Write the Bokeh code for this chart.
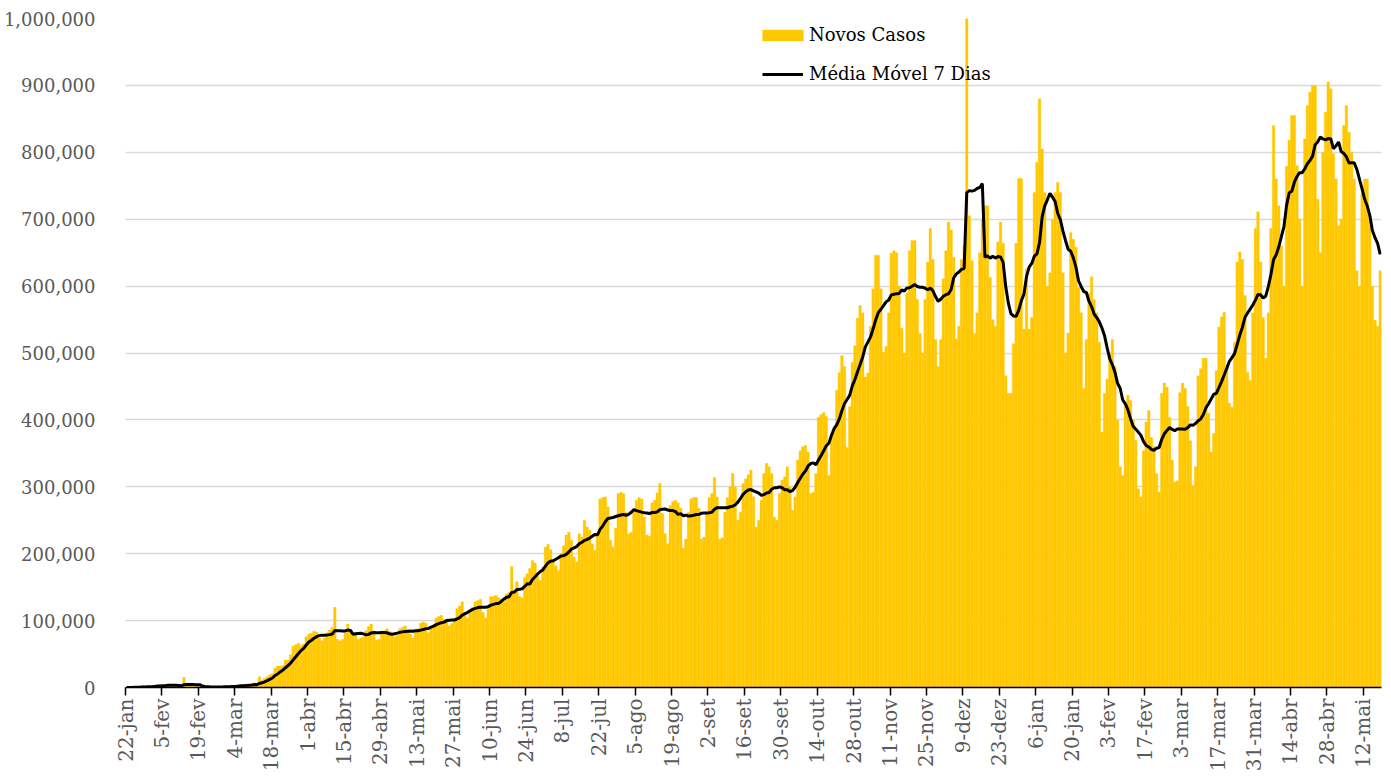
import numpy as np
import pandas as pd
from math import pi
from bokeh.plotting import figure
from bokeh.models import (ColumnDataSource, Range1d, FixedTicker, NumeralTickFormatter,
                          Legend, LegendItem)
from bokeh.embed import file_html
from bokeh.resources import INLINE

# Novos casos diários (milhares), 22-jan-2020 a 18-mai-2021
jan_2020 = [0.0, 0.1, 0.3, 0.5, 0.7, 0.8, 2.7, 0.6, 2.1, 1.7]
fev_2020 = [2.1, 2.6, 3.1, 4.0, 3.7, 3.2, 3.6, 2.7, 3.1, 2.6, 2.1, 0.4, 15.1, 6.5, 2.1,
            2.1, 1.9, 1.8, 0.4, 0.6, 1.0, 1.0, 0.6, 0.8, 0.9, 0.9, 1.1, 1.4, 1.8]
mar_2020 = [1.9, 1.9, 2.5, 2.3, 2.8, 3.9, 4.0, 3.9, 3.9, 4.5, 7.1, 2.6, 16.0, 11.0, 14.0,
            16.0, 19.0, 21.0, 29.0, 32.0, 32.0, 33.0, 41.0, 41.0, 49.0, 62.0, 64.0, 66.0,
            63.0, 65.0, 76.0]
abr_2020 = [80, 81, 84, 83, 74, 70, 74, 82, 86, 90, 120, 72, 70, 72, 82, 95, 86, 80, 78, 72,
            74, 76, 85, 91, 95, 82, 71, 72, 80, 85]
mai_2020 = [88, 84, 78, 76, 78, 88, 90, 92, 86, 80, 74, 84, 88, 96, 98, 96, 82, 88, 94, 104,
            106, 108, 102, 98, 92, 96, 104, 118, 122, 128, 112]
jun_2020 = [104, 114, 120, 128, 130, 132, 112, 104, 120, 136, 136, 138, 134, 132, 128, 140,
            142, 181, 142, 158, 136, 134, 164, 170, 178, 190, 186, 166, 160, 180]
jul_2020 = [210, 214, 206, 190, 182, 175, 200, 212, 228, 232, 220, 195, 188, 230, 225, 250,
            240, 235, 215, 205, 228, 282, 284, 285, 270, 220, 210, 238, 290, 292, 290]
ago_2020 = [262, 230, 232, 265, 280, 284, 282, 255, 228, 226, 276, 280, 291, 305, 260, 230,
            215, 272, 278, 280, 276, 268, 208, 222, 262, 282, 284, 284, 268, 222, 225]
set_2020 = [262, 284, 290, 314, 285, 222, 224, 262, 284, 300, 320, 300, 250, 262, 305, 312,
            318, 325, 285, 240, 250, 280, 320, 335, 330, 320, 255, 250, 290, 310]
out_2020 = [315, 330, 300, 265, 285, 340, 354, 360, 362, 352, 290, 292, 320, 404, 408, 411,
            405, 317, 374, 389, 444, 471, 496, 480, 359, 420, 486, 511, 552, 571, 560]
nov_2020 = [464, 470, 540, 596, 646, 646, 596, 501, 510, 560, 649, 653, 650, 600, 537, 500,
            590, 653, 668, 668, 580, 529, 500, 580, 636, 686, 640, 520, 480, 520]
dez_2020 = [611, 653, 696, 684, 643, 521, 540, 640, 660, 1490, 705, 638, 529, 560, 650, 700,
            720, 720, 613, 550, 540, 666, 696, 664, 466, 440, 440, 514, 664, 761, 761]
jan_2021 = [536, 626, 536, 553, 740, 785, 880, 805, 740, 600, 620, 700, 740, 755, 740, 620,
            500, 530, 680, 670, 658, 598, 560, 447, 520, 589, 614, 580, 560, 516, 382]
fev_2021 = [440, 461, 500, 520, 480, 400, 330, 317, 420, 437, 429, 400, 370, 297, 285, 354,
            397, 414, 374, 360, 320, 292, 440, 455, 449, 404, 340, 307]
mar_2021 = [309, 441, 455, 447, 420, 369, 302, 330, 466, 477, 492, 492, 410, 352, 380, 474,
            539, 554, 561, 480, 425, 419, 516, 636, 651, 640, 586, 471, 459, 560, 686]
abr_2021 = [711, 636, 553, 492, 560, 686, 840, 760, 720, 660, 600, 779, 818, 855, 855, 780,
            700, 600, 820, 870, 890, 900, 900, 730, 650, 800, 860, 905, 895, 798]
mai_2021 = [760, 690, 700, 840, 870, 830, 800, 760, 623, 600, 738, 760, 760, 700, 600, 549,
            540, 623]

tick_labels = ["22-jan", "5-fev", "19-fev", "4-mar", "18-mar", "1-abr", "15-abr", "29-abr",
               "13-mai", "27-mai", "10-jun", "24-jun", "8-jul", "22-jul", "5-ago", "19-ago",
               "2-set", "16-set", "30-set", "14-out", "28-out", "11-nov", "25-nov", "9-dez",
               "23-dez", "6-jan", "20-jan", "3-fev", "17-fev", "3-mar", "17-mar", "31-mar",
               "14-abr", "28-abr", "12-mai"]

months = [jan_2020, fev_2020, mar_2020, abr_2020, mai_2020, jun_2020, jul_2020, ago_2020,
          set_2020, out_2020, nov_2020, dez_2020, jan_2021, fev_2021, mar_2021, abr_2021,
          mai_2021]
novos_casos = np.concatenate([np.array(m, dtype=float) for m in months]) * 1000.0
n = len(novos_casos)
media_movel = pd.Series(novos_casos).rolling(7, min_periods=1).mean().to_numpy()

idx = np.arange(n)
src = ColumnDataSource(data=dict(x=idx + 0.5, casos=novos_casos, mm=media_movel))

FONT = "DejaVu Serif"
GRAY = "#595959"
YELLOW = "#FFC800"

p = figure(width=1383, height=776, output_backend="svg", toolbar_location=None,
           x_range=Range1d(0, n), y_range=Range1d(0, 1_000_000),
           min_border_left=125, min_border_right=2, min_border_top=18, min_border_bottom=89)
p.outline_line_color = None
p.background_fill_color = "white"

bars = p.vbar(x="x", top="casos", width=1.0, source=src, fill_color=YELLOW,
              line_color=YELLOW, line_width=0.3)
mm_line = p.line(x="x", y="mm", source=src, line_color="black", line_width=3)

# y axis
p.yaxis.ticker = FixedTicker(ticks=list(range(0, 1_000_001, 100_000)))
p.yaxis.formatter = NumeralTickFormatter(format="0,0")
p.yaxis.axis_line_color = None
p.yaxis.major_tick_line_color = None
p.yaxis.minor_tick_line_color = None
p.yaxis.major_label_standoff = 24
p.yaxis.major_label_text_font = FONT
p.yaxis.major_label_text_font_size = "18px"
p.yaxis.major_label_text_color = GRAY
p.ygrid.grid_line_color = "#d9d9d9"
p.ygrid.grid_line_width = 1.5

# x axis
tick_pos = list(range(0, 14 * len(tick_labels), 14))
p.xaxis.ticker = FixedTicker(ticks=tick_pos)
p.xaxis.major_label_overrides = {t: lab for t, lab in zip(tick_pos, tick_labels)}
p.xaxis.major_label_orientation = pi / 2
p.xaxis.axis_line_color = "black"
p.xaxis.axis_line_width = 1.5
p.xaxis.major_tick_line_color = "black"
p.xaxis.major_tick_line_width = 1.5
p.xaxis.major_tick_out = 8
p.xaxis.major_tick_in = 0
p.xaxis.minor_tick_line_color = None
p.xaxis.major_label_standoff = 3
p.xaxis.major_label_text_font = FONT
p.xaxis.major_label_text_font_size = "20px"
p.xaxis.major_label_text_color = GRAY
p.xgrid.grid_line_color = None


def make_legend(label, renderer, loc, gw, gh, standoff):
    lg = Legend(items=[LegendItem(label=label, renderers=[renderer])], location=loc)
    lg.background_fill_alpha = 0
    lg.border_line_color = None
    lg.padding = 0
    lg.margin = 0
    lg.glyph_width = gw
    lg.glyph_height = gh
    lg.label_height = 20
    lg.label_standoff = standoff
    lg.label_text_font = FONT
    lg.label_text_font_size = "18px"
    lg.label_text_color = "black"
    return lg


p.add_layout(make_legend("Novos Casos", bars, (632, 642), 51, 14, 1), "center")
p.add_layout(make_legend("Média Móvel 7 Dias", mm_line, (637, 603), 41, 12, 6), "center")

open("out.html", "w").write(file_html(p, INLINE))
